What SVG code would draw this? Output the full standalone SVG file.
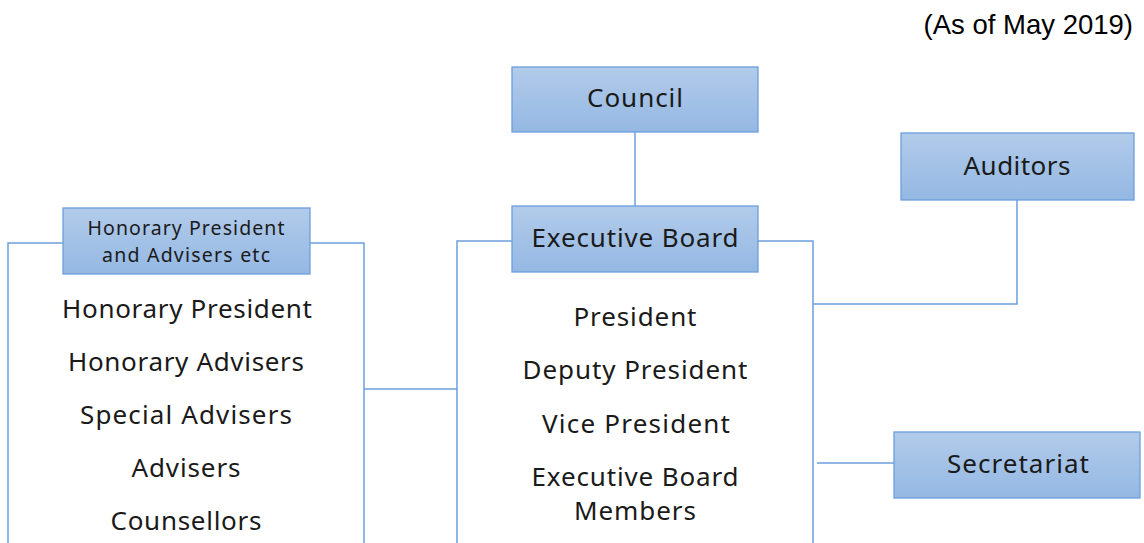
<svg xmlns="http://www.w3.org/2000/svg" width="1144" height="543" viewBox="0 0 1144 543">
<defs>
<linearGradient id="g" x1="0" y1="0" x2="0" y2="1">
<stop offset="0" stop-color="#b2cbea"/>
<stop offset="1" stop-color="#94b8e3"/>
</linearGradient>
</defs>
<style>
.box{fill:url(#g);stroke:#6c9fdc;stroke-width:1.3}
.ln{fill:none;stroke:#6c9fdc;stroke-width:1.5}
text{font-family:"Noto Sans","DejaVu Sans",sans-serif;fill:#1a1a1a;text-anchor:middle}
.b{font-size:26px}
.s{font-size:19.5px}
.l{font-size:26px}
.note{font-family:"Liberation Sans",Arial,sans-serif;font-size:27.5px;text-anchor:end;fill:#000}
</style>
<rect width="1144" height="543" fill="#fff"/>
<text class="note" x="1133" y="34">(As of May 2019)</text>
<g id="connectors">
<line class="ln" x1="635" y1="132" x2="635" y2="206"/>
<polyline class="ln" points="512,241 457,241 457,543"/>
<polyline class="ln" points="758,241 813,241 813,543"/>
<polyline class="ln" points="63,243 8,243 8,543"/>
<polyline class="ln" points="310,243 364,243 364,543"/>
<line class="ln" x1="364" y1="389" x2="457" y2="389"/>
<polyline class="ln" points="813,304 1017,304 1017,200"/>
<line class="ln" x1="817" y1="463" x2="894" y2="463"/>
</g>
<g id="council">
<rect class="box" x="512" y="67" width="246" height="65"/>
<text class="b" x="635" y="107" textLength="96" lengthAdjust="spacing">Council</text>
</g>
<g id="executive-board">
<rect class="box" x="512" y="206" width="246" height="66"/>
<text class="b" x="635" y="247" textLength="207" lengthAdjust="spacing">Executive Board</text>
</g>
<g id="auditors">
<rect class="box" x="901" y="133" width="233" height="67"/>
<text class="b" x="1017" y="175" textLength="107" lengthAdjust="spacing">Auditors</text>
</g>
<g id="secretariat">
<rect class="box" x="894" y="432" width="246" height="66"/>
<text class="b" x="1018" y="473" textLength="142" lengthAdjust="spacing">Secretariat</text>
</g>
<g id="honorary">
<rect class="box" x="63" y="208" width="247" height="66"/>
<text class="s" x="186" y="235" textLength="197" lengthAdjust="spacing">Honorary President</text>
<text class="s" x="186" y="262" textLength="168" lengthAdjust="spacing">and Advisers etc</text>
</g>
<g id="honorary-list">
<text class="l" x="187" y="318" textLength="250" lengthAdjust="spacing">Honorary President</text>
<text class="l" x="186" y="371" textLength="236" lengthAdjust="spacing">Honorary Advisers</text>
<text class="l" x="186" y="424" textLength="212" lengthAdjust="spacing">Special Advisers</text>
<text class="l" x="186" y="477" textLength="109" lengthAdjust="spacing">Advisers</text>
<text class="l" x="186" y="530" textLength="151" lengthAdjust="spacing">Counsellors</text>
</g>
<g id="board-list">
<text class="l" x="635" y="326" textLength="123" lengthAdjust="spacing">President</text>
<text class="l" x="635" y="379" textLength="225" lengthAdjust="spacing">Deputy President</text>
<text class="l" x="636" y="433" textLength="188" lengthAdjust="spacing">Vice President</text>
<text class="l" x="635" y="486" textLength="207" lengthAdjust="spacing">Executive Board</text>
<text class="l" x="635" y="520" textLength="122" lengthAdjust="spacing">Members</text>
</g>
</svg>
